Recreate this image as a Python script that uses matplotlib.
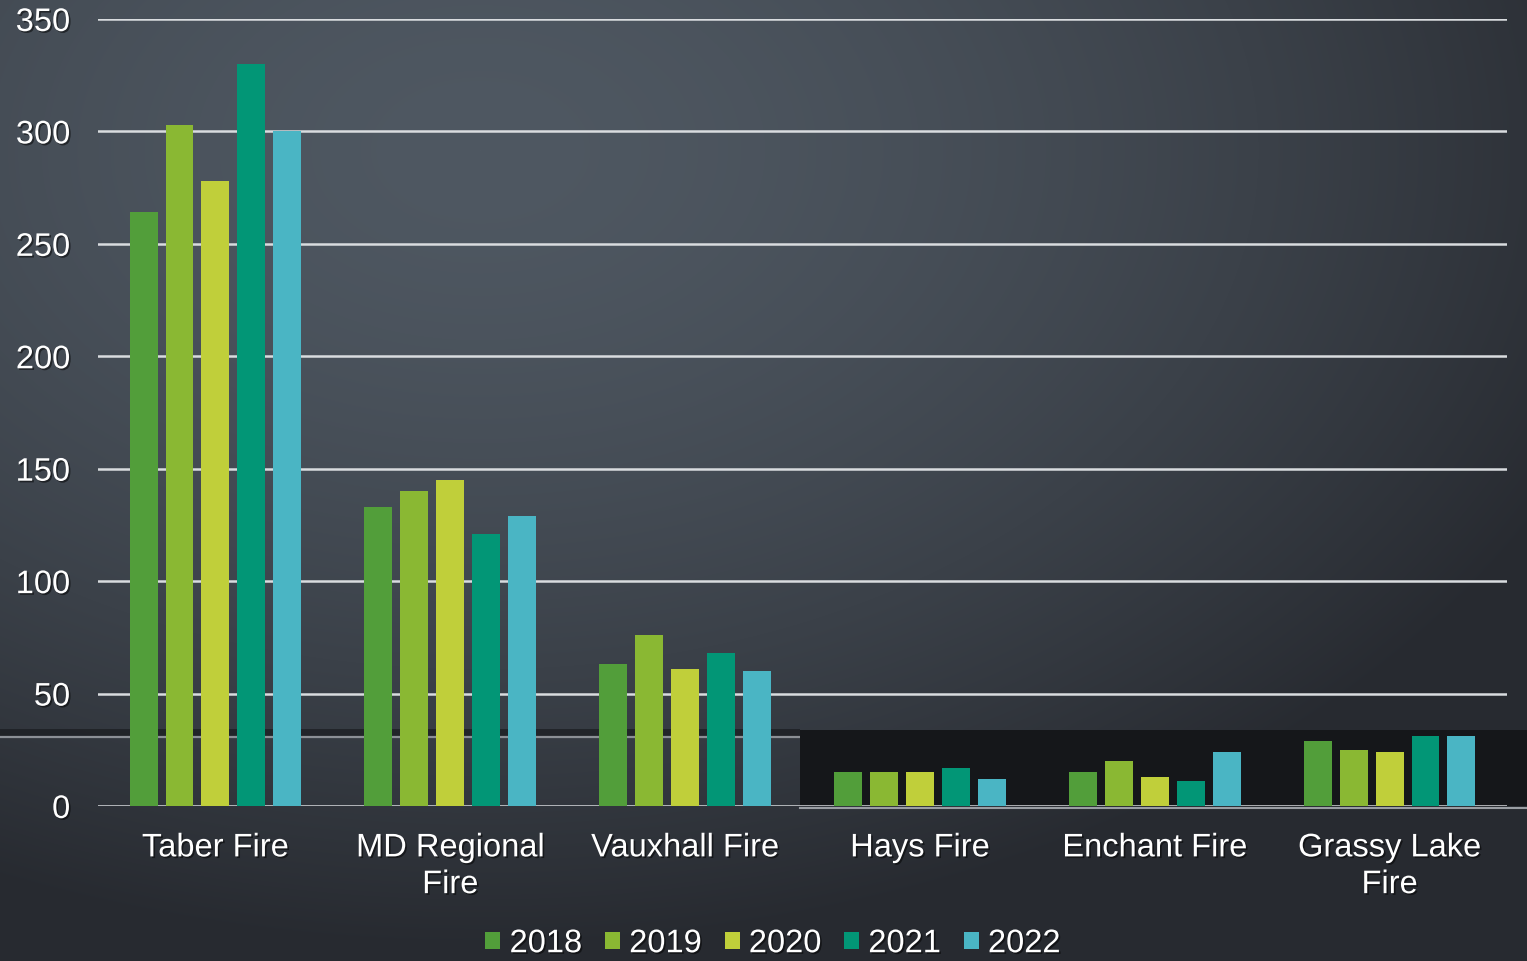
import numpy as np
import matplotlib.pyplot as plt
import matplotlib.patheffects as pe
from matplotlib.patches import Rectangle

# data
stations = ["Taber Fire", "MD Regional\nFire", "Vauxhall Fire", "Hays Fire", "Enchant Fire", "Grassy Lake\nFire"]
years = ["2018", "2019", "2020", "2021", "2022"]
calls_2018 = [264, 133, 63, 15, 15, 29]
calls_2019 = [303, 140, 76, 15, 20, 25]
calls_2020 = [278, 145, 61, 15, 13, 24]
calls_2021 = [330, 121, 68, 17, 11, 31]
calls_2022 = [300, 129, 60, 12, 24, 31]
series = [calls_2018, calls_2019, calls_2020, calls_2021, calls_2022]
colors = ["#529e3a", "#8ab833", "#c0cf3a", "#029676", "#4ab5c4"]

W, H = 1527, 961
FS = 23.5
plt.rcParams["font.family"] = ["Liberation Sans", "DejaVu Sans"]

fig = plt.figure(figsize=(W / 100, H / 100), dpi=100)

# background: slate gradient, lighter toward upper left
bg = fig.add_axes([0, 0, 1, 1], zorder=-1)
yy, xx = np.mgrid[0:H, 0:W]
d = np.sqrt(((xx - 480) / 1200.0) ** 2 + ((yy - 150) / 800.0) ** 2)
t = np.clip(d, 0, 1) ** 1.6
light = np.array([0x4f, 0x58, 0x62]) / 255
dark = np.array([0x27, 0x2a, 0x30]) / 255
img = light[None, None, :] * (1 - t[..., None]) + dark[None, None, :] * t[..., None]
bg.imshow(img, extent=[0, W, H, 0], aspect="auto", interpolation="bilinear")
bg.set_xlim(0, W)
bg.set_ylim(H, 0)
bg.axis("off")
# shelf band near the bottom
bg.add_patch(Rectangle((0, 729), 800, 7, color="#15171a", alpha=0.6, lw=0))
bg.plot([0, 800], [737, 737], color="#8c9096", lw=1.6, solid_capstyle="butt")
bg.add_patch(Rectangle((800, 730), W - 800, 76, color="#15171a", lw=0))
bg.plot([800, W], [808, 808], color="#9a9ea3", lw=1.5)

ax = fig.add_axes([98 / W, 1 - 806 / H, (1507 - 98) / W, (806 - 19) / H])
ax.set_facecolor("none")

x = np.arange(len(stations))
bar_w = 0.119
step = 0.153
for i, (vals, col, yr) in enumerate(zip(series, colors, years)):
    ax.bar(x + (i - 2) * step, vals, width=bar_w, color=col, label=yr, zorder=3)

ax.set_xlim(-0.5, len(stations) - 0.5)
ax.set_ylim(0, 350)
ax.set_yticks(np.arange(0, 351, 50))
ax.yaxis.grid(True, color="#d9dcdf", lw=1.8, zorder=1)
ax.set_axisbelow(True)
for s in ax.spines.values():
    s.set_visible(False)

txt_fx = [pe.withSimplePatchShadow(offset=(1.2, -1.2), shadow_rgbFace="black", alpha=0.5)]
ax.tick_params(axis="both", length=0, colors="white", labelsize=FS)
ax.tick_params(axis="y", pad=20)
ax.tick_params(axis="x", pad=19)
ax.set_xticks(x)
ax.set_xticklabels(stations, linespacing=1.24)
for lab in ax.get_xticklabels() + ax.get_yticklabels():
    lab.set_path_effects(txt_fx)
    lab.set_color("white")

leg = ax.legend(loc="center", bbox_to_anchor=(0.479, -0.175), ncol=5, frameon=False,
                fontsize=FS, handlelength=0.46, handleheight=0.46, handletextpad=0.28,
                columnspacing=0.7, labelcolor="white", borderpad=0)
for t_ in leg.get_texts():
    t_.set_path_effects(txt_fx)

fig.savefig("out.png", dpi=100)
